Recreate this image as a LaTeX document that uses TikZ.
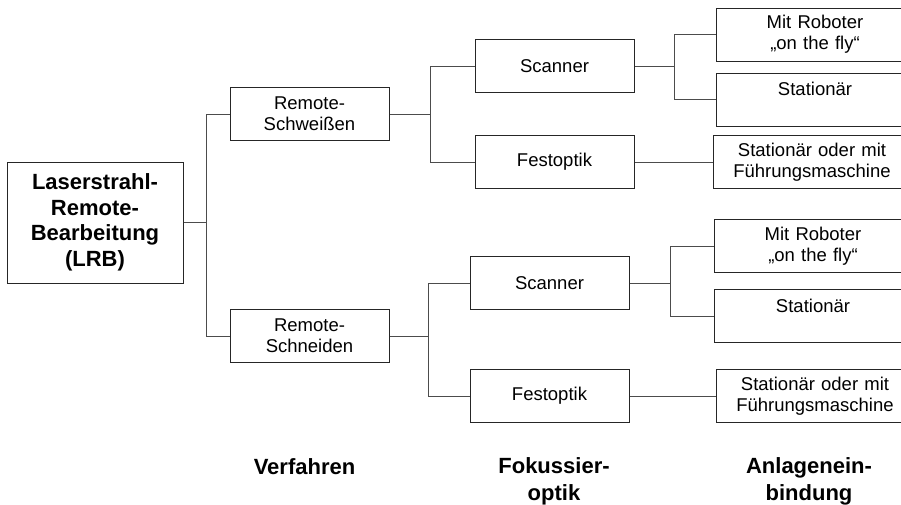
\documentclass[tikz,border=0pt]{standalone}
\usepackage{fontspec}
\setmainfont{Liberation Sans}
\usepackage{tikz}
\usetikzlibrary{positioning}

\begin{document}
\begin{tikzpicture}[
			rootnode/.style={rectangle, draw=black!85, line width=1pt, minimum width=176pt, minimum height=121pt, inner sep=0pt, align=center, font=\bfseries\fontsize{22}{25.5}\selectfont},
			midnode/.style={rectangle, draw=black!85, line width=1pt, text width=159pt, minimum height=53pt, inner sep=0pt, align=center, font=\fontsize{18.5}{21}\selectfont},
			endnode/.style={midnode, text width=198pt},
			levelnode/.style={inner sep=0pt, align=center, font=\bfseries\fontsize{22}{27}\selectfont},
			link/.style={draw=black!70, line width=1pt},
			]
			\useasboundingbox (0pt,0pt) rectangle (901pt,-504pt);
			%Nodes
			\node[rootnode] (lrb) at (95pt,-222.5pt) {Laserstrahl-\\Remote-\\Bearbeitung\\(LRB)};

			\node[midnode] (weld)	[right=46pt of lrb, yshift=108.5pt] {Remote-\\Schweißen};
			\node[midnode] (cut)	[right=46pt of lrb, yshift=-113.5pt] {Remote-\\Schneiden};

			\node[midnode] (scan1)	[right=85pt of weld, yshift=48pt] {Scanner};
			\node[midnode] (fix1)	[below=42pt of scan1] {Festoptik};
			\node[midnode] (scan2)	[right=80pt of cut, yshift=53pt] {Scanner};
			\node[midnode] (fix2)	[below=59pt of scan2] {Festoptik};

			\node[endnode] (robot1)	[right=81pt of scan1, yshift=31.5pt] {Mit Roboter\\„on the fly“};
			\node[endnode] (stat1)	[below=11pt of robot1] {Stationär\\\mbox{}};
			\node[endnode] (guide1)	[right=78pt of fix1] {Stationär oder mit\\Führungsmaschine};
			\node[endnode] (robot2)	[right=84pt of scan2, yshift=37pt] {Mit Roboter\\„on the fly“};
			\node[endnode] (stat2)	[below=16pt of robot2] {Stationär\\\mbox{}};
			\node[endnode] (guide2)	[right=86pt of fix2] {Stationär oder mit\\Führungsmaschine};

			\node[levelnode] (method)	[below=95pt of cut, xshift=-5pt] {Verfahren};
			\node[levelnode] (optics)	[below=34pt of fix2, xshift=4.5pt] {Fokussier-\\optik};
			\node[levelnode] (mount)	[below=34pt of guide2, xshift=-6pt] {Anlagenein-\\bindung};

			%Lines
			\draw[link] (lrb.east) -- ++(23pt,0) |- (weld.west);
			\draw[link] (lrb.east) -- ++(23pt,0) |- (cut.west);
			\draw[link] (weld.east) -- ++(41pt,0) |- (scan1.west);
			\draw[link] (weld.east) -- ++(41pt,0) |- (fix1.west);
			\draw[link] (cut.east) -- ++(39pt,0) |- (scan2.west);
			\draw[link] (cut.east) -- ++(39pt,0) |- (fix2.west);
			\draw[link] (scan1.east) -- ++(40pt,0) |- (robot1.west);
			\draw[link] (scan1.east) -- ++(40pt,0) |- (stat1.west);
			\draw[link] (scan2.east) -- ++(41pt,0) |- (robot2.west);
			\draw[link] (scan2.east) -- ++(41pt,0) |- (stat2.west);
			\draw[link] (fix1) -- (guide1);
			\draw[link] (fix2) -- (guide2);
		\end{tikzpicture}
\end{document}
